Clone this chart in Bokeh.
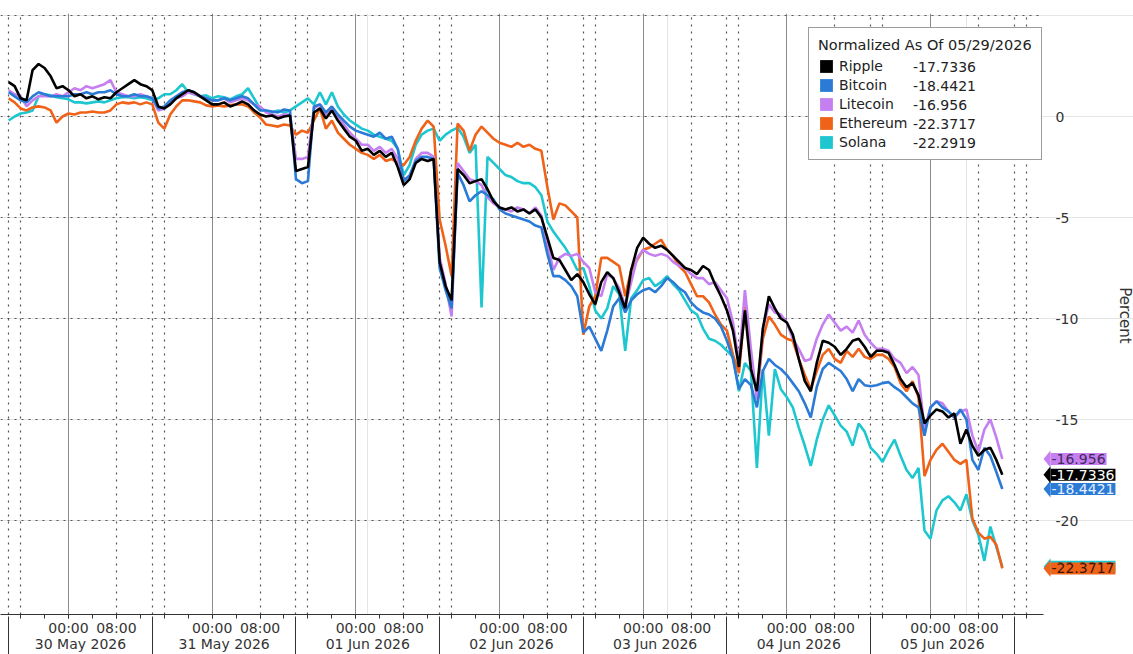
import math
from bokeh.plotting import figure
from bokeh.models import (Range1d, LinearAxis, FixedTicker, Grid, Legend, LegendItem,
                          Label, PolyAnnotation)
from bokeh.core.properties import value
from bokeh.embed import file_html
from bokeh.resources import INLINE

# ---------------- data ----------------
# hours since 30 May 2026 00:00 (data starts 29 May 14:00)
hours = list(range(-10, 157))

ripple = [
    1.7, 1.5, 0.9, 0.8, 2.3, 2.6, 2.4, 2.0, 1.4, 1.5,
    1.3, 1.0, 1.1, 0.9, 1.0, 0.85, 0.95, 0.9, 1.2, 1.4,
    1.6, 1.8, 1.6, 1.5, 1.3, 0.5, 0.4, 0.6, 0.9, 1.1,
    1.3, 1.2, 1.0, 0.8, 0.6, 0.6, 0.7, 0.5, 0.6, 0.75,
    0.6, 0.3, 0.1, 0.0, 0.05, -0.1, 0.0, 0.05, -2.7, -2.6,
    -2.5, 0.2, 0.4, -0.1, 0.3, -0.2, -0.6, -1.0, -1.2, -1.7,
    -1.6, -1.9, -1.7, -2.0, -1.8, -2.5, -3.4, -3.1, -2.3, -2.1,
    -2.2, -2.1, -7.2, -8.4, -9.1, -2.6, -2.9, -3.3, -3.2, -3.1,
    -3.6, -4.2, -4.5, -4.6, -4.5, -4.7, -4.6, -4.8, -4.6, -5.0,
    -6.0, -7.0, -7.1, -7.6, -8.1, -7.8, -8.2, -8.8, -9.3, -8.2,
    -7.7, -8.0, -8.7, -9.5, -7.6, -6.5, -6.0, -6.3, -6.5, -6.4,
    -6.6, -6.9, -7.2, -7.5, -7.6, -7.8, -7.4, -7.6, -8.3, -8.9,
    -9.6, -10.6, -12.4, -9.6, -12.5, -13.6, -10.5, -8.9, -9.5, -10.0,
    -10.2, -10.8, -12.0, -13.1, -13.6, -12.2, -11.1, -11.2, -11.4, -11.8,
    -11.5, -11.1, -11.0, -11.4, -11.9, -11.6, -11.6, -11.7, -12.3, -13.0,
    -13.4, -13.2, -13.8, -15.2, -14.8, -14.5, -14.6, -14.9, -14.7, -16.2,
    -15.5, -16.3, -16.8, -16.5, -16.4, -17.0, -17.7336,
]

bitcoin = [
    1.2, 1.0, 0.8, 0.7, 1.0, 1.2, 1.1, 1.0, 1.0, 1.0,
    1.0, 1.1, 1.1, 1.2, 1.1, 1.2, 1.2, 1.3, 1.1, 1.0,
    1.0, 1.1, 1.0, 1.0, 0.9, 0.4, 0.5, 0.8, 1.0, 1.2,
    1.3, 1.2, 1.0, 0.9, 0.8, 0.8, 0.9, 0.8, 0.9, 1.0,
    0.9, 0.6, 0.3, 0.3, 0.25, 0.2, 0.35, 0.3, -3.1, -3.3,
    -3.2, 0.5, 0.6, 0.2, 0.5, 0.1, -0.2, -0.5, -0.7, -0.8,
    -0.9, -1.0, -0.8, -1.1, -1.0, -1.6, -3.2, -2.9, -2.2, -2.0,
    -2.0, -2.1, -7.5, -8.6, -9.5, -2.8, -3.4, -4.2, -3.9, -3.7,
    -3.9, -4.1, -4.6, -4.8, -4.9, -5.0, -5.1, -5.2, -5.4, -5.5,
    -6.8, -7.9, -7.9, -8.1, -8.4, -8.9, -10.7, -10.4, -11.0, -11.6,
    -10.6, -9.4, -9.0, -9.7, -9.1, -8.8, -8.6, -8.5, -8.7, -8.4,
    -8.0, -8.2, -8.5, -8.7, -9.2, -9.5, -9.7, -9.8, -10.0, -10.4,
    -11.1, -12.0, -13.5, -13.0, -13.3, -14.4, -12.6, -12.0, -12.3, -12.5,
    -12.8, -13.2, -13.6, -14.2, -14.9, -13.4, -12.5, -12.2, -12.4, -12.6,
    -13.0, -13.6, -13.0, -13.3, -13.35, -13.3, -13.2, -13.15, -13.4, -13.6,
    -13.9, -14.2, -14.4, -15.8, -14.4, -14.1, -14.4, -14.6, -14.9, -14.5,
    -15.0, -17.0, -17.5, -16.4, -16.8, -17.6, -18.4421,
]

litecoin = [
    1.3, 1.1, 1.0, 0.5, 0.8, 1.0, 1.0, 1.0, 1.1, 1.0,
    1.2, 1.4, 1.3, 1.5, 1.4, 1.5, 1.6, 1.8, 1.2, 1.1,
    1.0, 1.0, 1.1, 1.0, 0.9, 0.3, 0.4, 0.7, 0.9, 1.0,
    1.2, 1.1, 1.0, 0.9, 0.8, 0.8, 0.9, 0.7, 0.8, 0.9,
    0.8, 0.6, 0.5, 0.2, 0.1, 0.0, 0.1, 0.1, -2.1, -2.1,
    -2.0, 0.4, 0.6, 0.1, 0.4, 0.0, -0.4, -0.8, -1.1, -1.4,
    -1.4, -1.7, -1.5, -1.8, -1.6, -2.1, -3.1, -3.0, -2.1, -1.8,
    -1.8, -2.0, -7.0, -8.3, -9.9, -2.3, -2.7, -3.1, -3.2, -3.4,
    -4.0, -4.3, -4.5, -4.6, -4.7, -4.5, -4.6, -4.8, -4.5, -4.9,
    -6.3, -7.6, -7.0, -6.8, -6.9, -6.8, -7.2, -7.5, -8.7, -8.9,
    -7.8, -8.0, -8.5, -9.4, -8.2, -7.0, -6.6, -6.8, -6.9, -6.8,
    -6.9, -7.2, -7.4, -7.5, -7.8, -8.0, -8.0, -8.3, -8.2, -8.6,
    -9.0, -10.2, -12.2, -8.6, -11.5, -14.0, -10.5, -9.3, -9.7, -9.8,
    -10.2, -11.0, -11.5, -12.1, -12.0, -11.0, -10.3, -9.8, -10.2, -10.6,
    -10.4, -10.7, -10.1, -10.8, -11.2, -11.5, -11.5, -11.6, -12.0, -12.2,
    -12.7, -12.4, -12.8, -15.5, -14.4, -14.1, -14.2, -14.6, -14.9, -14.6,
    -14.5, -15.8, -16.6, -15.5, -15.0, -15.9, -16.956,
]

ethereum = [
    0.9, 0.7, 0.4, 0.3, 0.45, 0.5, 0.45, 0.3, -0.3, 0.0,
    0.15, 0.1, 0.2, 0.2, 0.25, 0.2, 0.2, 0.3, 0.6, 0.7,
    0.65, 0.7, 0.6, 0.7, 0.6, -0.3, -0.6, 0.1, 0.5, 0.8,
    0.8, 0.75, 0.7, 0.55, 0.5, 0.55, 0.5, 0.55, 0.6, 0.6,
    0.5, 0.2, -0.05, -0.4, -0.45, -0.5, -0.4, -0.45, -0.9, -0.7,
    -0.8, -0.2, 0.4, -0.6, -0.2, -0.8, -1.1, -1.4, -1.6, -1.8,
    -1.9, -2.1, -1.9, -2.2, -2.1, -2.3, -2.4, -2.0, -1.2, -0.6,
    -0.2, -0.5, -5.1, -6.4, -7.9, -0.35, -0.7, -1.7, -0.9, -0.5,
    -0.8, -1.1, -1.3, -1.4, -1.5, -1.3, -1.5, -1.4, -1.6, -1.7,
    -3.5, -5.1, -4.3, -4.4, -4.7, -5.0, -10.8, -9.4, -8.9, -7.0,
    -7.0, -7.2, -7.4, -8.9, -7.6, -7.1, -6.6, -6.5, -6.3, -6.1,
    -6.6, -6.9, -7.4, -7.7, -8.3, -8.9, -8.9, -9.2, -9.8, -10.3,
    -10.6, -11.8, -12.7, -9.4, -12.0, -13.8, -11.0, -9.9, -10.3, -10.8,
    -11.0, -11.1, -12.0, -12.8, -13.5, -12.6, -11.8, -11.5, -12.0, -12.2,
    -11.6, -11.9, -11.5, -11.9, -12.0, -11.8, -11.8, -12.0, -12.4, -13.2,
    -13.6, -13.1, -13.9, -17.8, -17.0, -16.5, -16.2, -16.6, -17.0, -17.2,
    -17.0, -19.9, -20.6, -20.9, -20.8, -21.2, -22.3717,
]

solana = [
    -0.2, 0.0, 0.15, 0.2, 0.3, 1.0, 1.1, 1.05, 0.95, 0.9,
    0.85, 0.7, 0.7, 0.65, 0.7, 0.75, 0.7, 0.8, 0.9, 0.95,
    0.95, 0.9, 0.95, 0.9, 0.8, 0.9, 1.1, 1.1, 1.3, 1.6,
    1.2, 1.1, 1.0, 1.05, 0.9, 1.0, 0.95, 0.85, 1.0, 1.1,
    1.4, 0.9, 0.4, 0.3, 0.2, 0.3, 0.2, 0.3, 0.5, 0.7,
    0.9, 0.6, 1.2, 0.6, 1.2, 0.5, 0.1, -0.2, -0.4, -0.6,
    -0.7, -0.9, -1.0, -1.1, -1.2, -1.6, -2.9, -2.4, -1.4, -0.9,
    -0.7, -0.6, -1.2, -0.9, -0.7, -0.55, -1.0, -1.8, -1.4, -9.45,
    -2.0, -2.3, -2.6, -2.9, -3.0, -3.2, -3.3, -3.3, -3.5, -3.9,
    -5.2, -5.7, -6.1, -6.5, -7.0, -7.6, -7.5, -8.4, -9.6, -10.0,
    -9.5, -8.4, -8.8, -11.6, -9.0, -8.6, -8.1, -8.0, -8.4, -8.2,
    -7.9, -8.3, -8.6, -9.1, -9.6, -9.8, -10.5, -11.0, -11.1, -11.3,
    -11.6, -11.9, -13.6, -12.2, -12.6, -17.4, -12.5, -15.8, -12.5, -13.5,
    -13.9, -14.4, -15.4, -16.3, -17.3, -16.0, -15.0, -14.3, -14.8, -15.3,
    -15.6, -16.3, -15.2, -15.6, -16.4, -16.7, -17.1, -16.5, -16.0, -16.8,
    -17.5, -17.9, -17.4, -20.5, -20.9, -19.5, -19.0, -18.8, -19.1, -19.5,
    -18.7, -20.0, -20.7, -22.0, -20.3, -21.3, -22.2919,
]

names = ["Ripple", "Bitcoin", "Litecoin", "Ethereum", "Solana"]
colors = ["#000000", "#2b7bd6", "#c57ff0", "#ef6218", "#1ec7d0"]
tag_text_colors = ["#ffffff", "#e8f0ff", "#43285a", "#3a1806", "#0c3c40"]
legend_title = "Normalized As Of 05/29/2026"

day_labels = ["30 May 2026", "31 May 2026", "01 Jun 2026", "02 Jun 2026",
              "03 Jun 2026", "04 Jun 2026", "05 Jun 2026"]
day_starts = [0, 24, 48, 72, 96, 120, 144]
time_labels = {0: "00:00", 8: "08:00"}
y_ticks = [0, -5, -10, -15, -20]
y_grid = [5, 0, -5, -10, -15, -20]
y_label = "Percent"

series = [ripple, bitcoin, litecoin, ethereum, solana]

# ---------------- layout (pixel geometry of the reference) ----------------
W, H = 1133, 654
PX_H, PX_X0 = 5.986, 68.0      # px per hour, px of 30 May 00:00
PX_V, PX_Y0 = 20.2, 116.0      # px per percent, px of 0 %
TOP, BOTTOM = 13, 614          # frame top / x-axis line


def hx(px):
    return (px - PX_X0) / PX_H


def vy(py):
    return (PX_Y0 - py) / PX_V


X0, X1 = hx(0), hx(W)
X_END = hx(1043)               # right end of the plotting area
Y1, Y0 = vy(TOP), vy(BOTTOM)
FONT = "DejaVu Sans"

p = figure(width=W, height=H, x_range=Range1d(X0, X1), y_range=Range1d(Y0, Y1),
           output_backend="svg", toolbar_location=None,
           x_axis_location=None, y_axis_location=None,
           min_border_left=0, min_border_right=0, min_border_top=TOP, min_border_bottom=0)
p.outline_line_color = None
p.background_fill_color = "white"
p.border_fill_color = "white"

# ---- grids ----
dotted_x = []
for d in [-24] + day_starts:
    for off in (8, 14, 16):
        h = d + off
        if X0 <= h <= X_END:
            dotted_x.append(h)
p.add_layout(Grid(dimension=0, ticker=FixedTicker(ticks=list(day_starts)),
                  grid_line_color="#8a8a8a", grid_line_width=1))
p.add_layout(Grid(dimension=0, ticker=FixedTicker(ticks=dotted_x),
                  grid_line_color="#555555", grid_line_width=1.2, grid_line_dash="2 5"))
p.segment(x0=[X0] * len(y_grid), x1=[X_END] * len(y_grid), y0=y_grid, y1=y_grid,
          line_color="#555555", line_width=1.2, line_dash="2 5")

# ---- y tick labels and axis title on the right ----
p.text(x=[hx(1055)] * len(y_ticks), y=y_ticks, text=[str(t) for t in y_ticks],
       text_font=value(FONT), text_font_size=value("14px"), text_color="#333333",
       text_align="left", text_baseline="middle")
p.add_layout(Label(x=hx(1124), y=vy(315), text=y_label, angle=-math.pi / 2,
                   text_font=FONT, text_font_size="15px", text_color="#333333",
                   text_align="center", text_baseline="middle"))

# ---- bottom axes: time row (with axis line) and date row ----
time_ticks = sorted(d + k for d in day_starts for k in time_labels)
four_hourly = list(range(-8, 163, 4))
axB = LinearAxis(ticker=FixedTicker(ticks=time_ticks, minor_ticks=four_hourly),
                 bounds=(X0, X_END),
                 major_label_overrides={d + k: v for d in day_starts for k, v in time_labels.items()},
                 major_tick_out=4, major_tick_in=0, major_tick_line_color="#333333",
                 minor_tick_out=4, minor_tick_in=0, minor_tick_line_color="#333333",
                 axis_line_color="#333333", axis_line_width=1, major_label_standoff=1,
                 major_label_text_font=FONT, major_label_text_font_size="14px",
                 major_label_text_color="#333333")
centers = [d + 2 for d in day_starts]
separators = [d + 14 for d in [-24] + day_starts]
axC = LinearAxis(ticker=FixedTicker(ticks=centers, minor_ticks=separators),
                 major_label_overrides={c: lab for c, lab in zip(centers, day_labels)},
                 major_tick_out=0, major_tick_in=0,
                 minor_tick_in=22, minor_tick_out=17, minor_tick_line_color="#333333",
                 minor_tick_line_width=1,
                 axis_line_color=None, major_label_standoff=-20,
                 major_label_text_font=FONT, major_label_text_font_size="14px",
                 major_label_text_color="#333333")
p.add_layout(axB, "below")
p.add_layout(axC, "below")

# ---- lines (first series on top) ----
line_renderers = {}
for name, vals, col in reversed(list(zip(names, series, colors))):
    line_renderers[name] = p.line(hours, vals, line_color=col, line_width=2.6)

# ---- legend: names with square swatches, then a value column ----
nan = float("nan")
name_items, value_items = [], []
for name, col, vals in zip(names, colors, series):
    sw = p.quad(left=[nan], right=[nan], top=[nan], bottom=[nan], fill_color=col, line_color=None)
    name_items.append(LegendItem(label=name, renderers=[sw]))
    value_items.append(LegendItem(label=str(vals[-1]), renderers=[line_renderers[name]]))

LEG_PAD, LEG_SPACING, LEG_GLYPH = 9, 3, 16
LEG_BOTTOM = BOTTOM - 160      # legend box bottom, px above the x-axis line
common = dict(label_text_font=FONT, label_text_font_size="14px", label_text_color="#222222",
              spacing=LEG_SPACING, margin=0, glyph_height=LEG_GLYPH, label_height=LEG_GLYPH)
legend = Legend(items=name_items, location=(808, LEG_BOTTOM), title=legend_title,
                title_text_font=FONT, title_text_font_size="14.5px",
                title_text_font_style="normal", title_text_color="#222222", title_standoff=5,
                label_standoff=5, glyph_width=LEG_GLYPH, padding=LEG_PAD,
                border_line_color="#3a3a3a", border_line_width=1.5,
                background_fill_color="white", background_fill_alpha=1.0, **common)
# borderless legend: no padding is applied, so offset it by the padding of the boxed one
values_legend = Legend(items=value_items, location=(913, LEG_BOTTOM + LEG_PAD),
                       label_standoff=0, glyph_width=0, padding=LEG_PAD,
                       border_line_color=None, background_fill_alpha=0.0, **common)
p.add_layout(legend)
p.add_layout(values_legend)

# ---- last-value tags on the right ----
tip, box_left = X_END, hx(1050)
half = 8.5 / PX_V
for i in [4, 3, 2, 1, 0]:  # Solana under Ethereum, Ripple on top
    v = series[i][-1]
    p.add_layout(PolyAnnotation(xs=[tip, box_left, box_left], ys=[v, v + half, v - half],
                                fill_color=colors[i], fill_alpha=1.0, line_color=None))
    p.add_layout(Label(x=box_left, y=v, text=str(v), text_font=FONT, text_font_size="14px",
                       text_baseline="middle", text_align="left", text_color=tag_text_colors[i],
                       background_fill_color=colors[i], background_fill_alpha=1.0,
                       padding=1))

open("out.html", "w").write(file_html(p, INLINE))
